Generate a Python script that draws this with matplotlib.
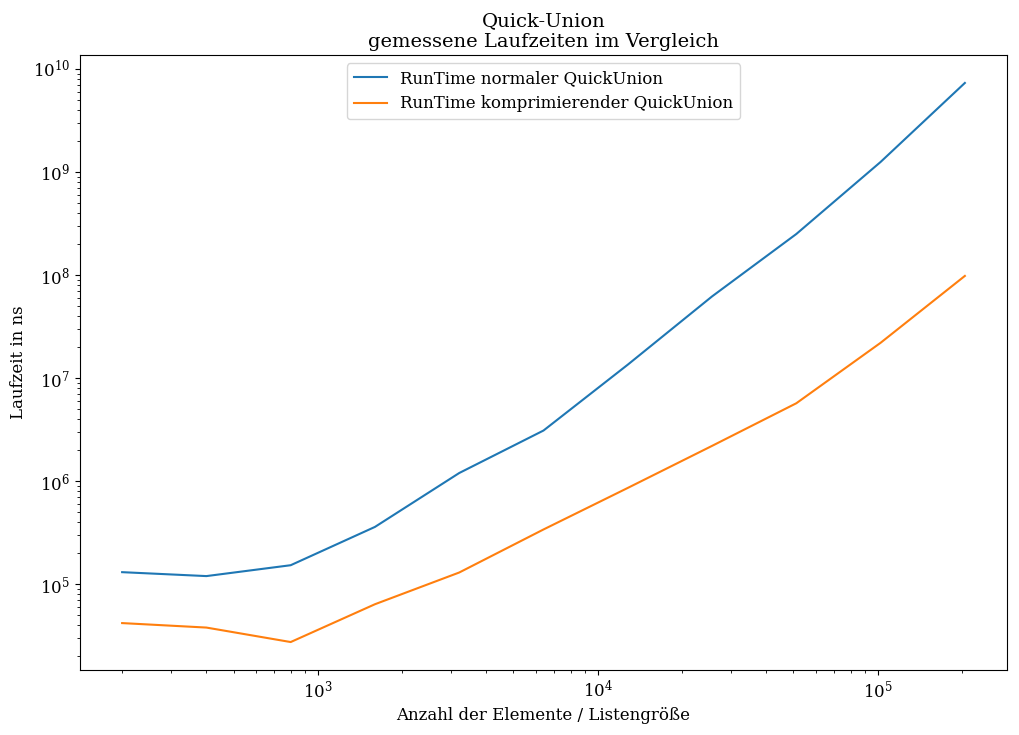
import matplotlib
matplotlib.use("Agg")
import matplotlib.pyplot as plt

plt.rcParams['font.family'] = 'DejaVu Serif'
plt.rcParams['font.size'] = 12

sizes = [200, 400, 800, 1600, 3200, 6400, 12800, 25600, 51200, 102400, 204800]
normal = [1.31e5, 1.2e5, 1.53e5, 3.6e5, 1.2e6, 3.1e6, 1.35e7, 6.2e7, 2.5e8, 1.25e9, 7.3e9]
compressed = [4.2e4, 3.8e4, 2.75e4, 6.4e4, 1.3e5, 3.4e5, 8.6e5, 2.2e6, 5.7e6, 2.2e7, 9.8e7]

fig = plt.figure(figsize=(10.19, 7.35), dpi=100)
ax = fig.add_axes([80/1019, 1-670/735, 927/1019, 615/735])
ax.plot(sizes, normal, label='RunTime normaler QuickUnion')
ax.plot(sizes, compressed, label='RunTime komprimierender QuickUnion')
ax.set_xscale('log')
ax.set_yscale('log')
ax.set_title('Quick-Union\ngemessene Laufzeiten im Vergleich', fontsize=14)
ax.set_xlabel('Anzahl der Elemente / Listengröße')
ax.set_ylabel('Laufzeit in ns')
ax.legend(loc='upper center')
fig.savefig('out.png', dpi=100)
